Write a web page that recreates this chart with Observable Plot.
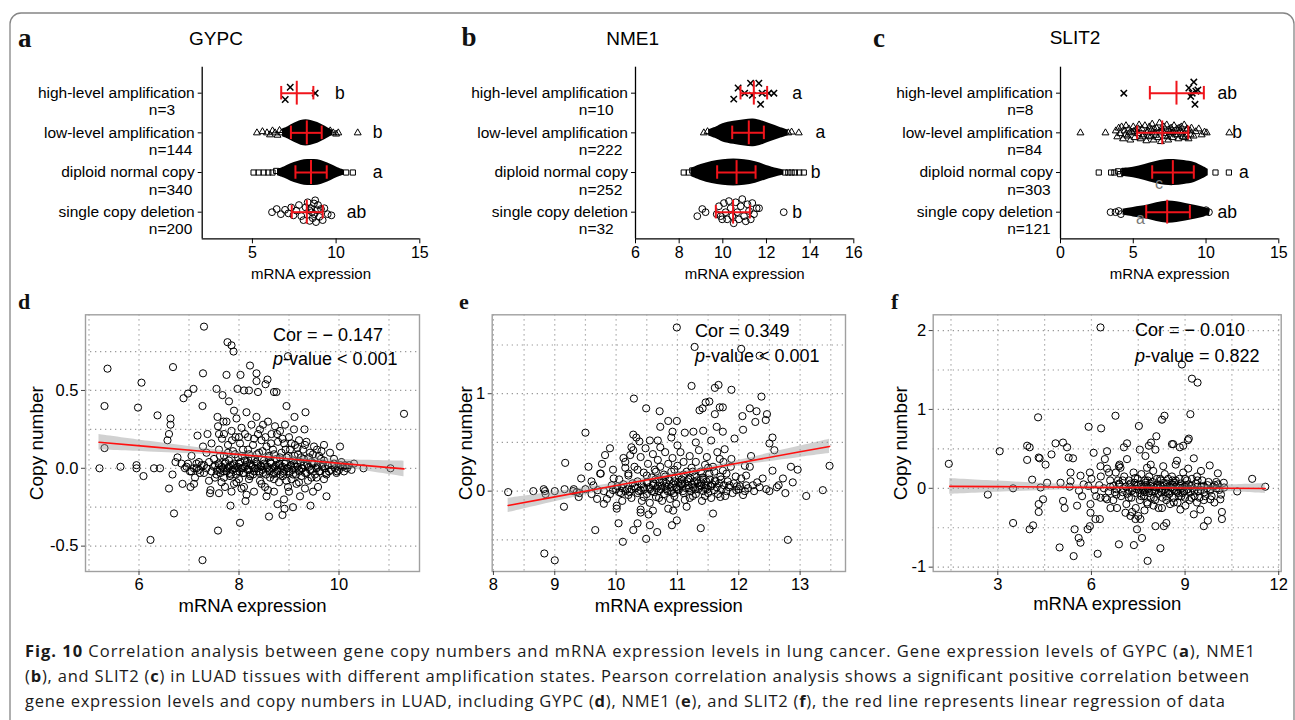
<!DOCTYPE html>
<html><head><meta charset="utf-8">
<script src="https://cdn.jsdelivr.net/npm/d3@7"></script>
<script src="https://cdn.jsdelivr.net/npm/@observablehq/plot@0.6"></script>
<style>
body{margin:0;background:#fff;}
#fig{position:relative;width:1295px;height:720px;overflow:hidden;background:#fff;}
.panel{position:absolute;}
.panel svg{display:block;background:transparent !important;max-width:none !important;}
#overlay{position:absolute;left:0;top:0;pointer-events:none;}
</style></head><body>
<div id="fig"></div>
<script>
// ---------------- DATA ----------------
const categories = ["high-level amplification","low-level amplification","diploid normal copy","single copy deletion"];
const catPos = [4,3,2,1];

// GYPC (a)
const gypcN = [3,144,340,200];
const gypcMean = [7.65,8.25,8.5,8.25];
const gypcSdLo = [6.72,7.3,7.57,7.35];
const gypcSdHi = [8.64,9.14,9.44,9.2];
const gypcLetters = ["b","b","a","ab"];
const gypcLetterX = [10.23,12.48,12.48,11.22];
const gypcHigh = [[7.26,0.15],[6.96,-0.16],[8.75,0]];
const gypcLow = [[5.27,0],[5.6,0.03],[5.87,0],[6.05,-0.05],[6.2,0.05],[6.35,0],[6.5,-0.06],[6.62,0.06],[6.75,0],[9.65,0.05],[9.83,0],[10.0,-0.03],[10.13,0],[11.29,0]];
const gypcDiploid = [[5.07,0],[5.37,0],[5.67,0],[5.95,0],[6.2,0],[6.42,0.04],[10.6,0],[11.0,0]];
const gypcSingle = [[6.17,0],[6.45,0.08],[6.7,-0.05],[6.95,0.06],[7.15,-0.03],[7.32,0.12],[7.45,-0.08],[7.62,0.04],[7.78,0.18],[7.92,-0.1],[8.05,-0.2],[8.18,0.12],[8.3,0.25],[8.42,-0.22],[8.5,0.1],[8.6,-0.15],[8.68,0.22],[8.75,0.3],[8.8,-0.25],[8.86,0.05],[8.92,0.18],[9.0,-0.12],[9.1,0.08],[9.3,0.1],[9.5,-0.05],[9.72,-0.08],[8.55,0],[8.4,0.05],[8.7,-0.05],[9.2,-0.2]];
const gypcLowBlob = [[6.8,0.1],[7.1,0.15],[7.5,0.24],[7.9,0.31],[8.2,0.33],[8.5,0.31],[8.9,0.26],[9.2,0.2],[9.5,0.13],[9.8,0.06]];
const gypcDiploidBlob = [[6.5,0.08],[6.9,0.14],[7.3,0.22],[7.7,0.28],[8.1,0.32],[8.5,0.33],[8.9,0.32],[9.3,0.27],[9.7,0.2],[10.1,0.12],[10.5,0.06]];

// NME1 (b)
const nme1N = [10,222,252,32];
const nme1Mean = [11.42,11.19,10.63,10.47];
const nme1SdLo = [10.81,10.43,9.74,9.68];
const nme1SdHi = [12.03,11.88,11.5,11.24];
const nme1Letters = ["a","a","b","b"];
const nme1LetterX = [13.4,14.47,14.25,13.4];
const nme1High = [[10.5,-0.15],[10.7,0.13],[11.0,0],[11.27,0.25],[11.35,-0.05],[11.65,0.25],[11.73,-0.28],[11.8,0],[12.1,0],[12.34,0]];
const nme1Low = [[9.13,0],[9.3,0.03],[13.0,0],[13.15,0.02],[13.48,0]];
const nme1Diploid = [[8.21,0],[8.44,0],[8.6,0.05],[12.85,0],[13.0,0],[13.15,0],[13.3,0],[13.5,0],[13.71,0]];
const nme1Single = [[8.83,-0.1],[9.06,0.08],[9.21,0],[9.72,-0.05],[9.82,0.15],[9.9,-0.1],[9.97,-0.18],[10.05,0.23],[10.13,0],[10.2,-0.18],[10.28,0.28],[10.36,0.1],[10.43,-0.1],[10.5,-0.28],[10.59,0.25],[10.66,0],[10.74,-0.18],[10.82,0.15],[10.89,0.33],[10.97,-0.1],[11.05,-0.23],[11.13,0.2],[11.2,0.03],[11.28,-0.18],[11.35,0.23],[11.43,-0.05],[11.55,0.1],[11.66,0.1],[12.79,0]];
const nme1LowBlob = [[9.35,0.08],[9.7,0.15],[10.0,0.23],[10.5,0.29],[11.0,0.33],[11.4,0.35],[11.8,0.3],[12.2,0.22],[12.6,0.14],[13.0,0.07]];
const nme1DiploidBlob = [[8.55,0.1],[9.0,0.2],[9.5,0.28],[10.0,0.32],[10.5,0.34],[11.0,0.32],[11.5,0.27],[12.0,0.18],[12.5,0.1],[12.8,0.06]];

// SLIT2 (c)
const slit2N = [8,84,303,121];
const slit2Mean = [7.97,6.99,7.72,7.33];
const slit2SdLo = [6.14,5.27,6.3,5.89];
const slit2SdHi = [9.85,8.78,9.16,8.89];
const slit2Letters = ["ab","b","a","ab"];
const slit2LetterX = [11.45,12.14,12.6,11.45];
const slit2High = [[4.35,0],[8.82,0.13],[8.95,-0.08],[9.05,0],[9.16,0.28],[9.24,-0.28],[9.3,0.05],[9.44,0.08]];
const slit2Low = [[1.37,0],[3.09,0],[3.8,0.05],[3.9,-0.1],[4.0,0.12],[4.1,-0.02],[4.2,0.15],[4.3,-0.15],[4.4,0.05],[4.5,0.18],[4.6,-0.08],[4.7,0.1],[4.8,-0.18],[4.9,0.02],[5.0,0.15],[5.1,-0.12],[5.2,0.08],[5.3,-0.02],[5.4,0.2],[5.5,-0.15],[5.6,0.1],[5.7,-0.05],[5.8,0.18],[5.9,-0.2],[6.0,0.05],[6.1,0.15],[6.2,-0.1],[6.3,0.22],[6.4,-0.18],[6.5,0.0],[6.6,0.12],[6.7,-0.12],[6.8,0.25],[6.9,-0.22],[7.0,0.05],[7.1,0.15],[7.2,-0.08],[7.3,0.2],[7.4,-0.18],[7.5,0.02],[7.6,0.12],[7.7,-0.12],[7.8,0.18],[7.9,-0.05],[8.0,0.1],[8.1,-0.15],[8.2,0.05],[8.3,0.15],[8.4,-0.1],[8.5,0.2],[8.6,-0.05],[8.7,0.1],[8.8,-0.15],[8.9,0.05],[9.0,0.12],[9.15,-0.08],[9.3,0.03],[9.5,0.1],[9.7,-0.05],[9.9,0.02],[10.05,0],[11.6,0],
[4.45,-0.05],[4.75,0.0],[5.05,0.04],[5.35,0.1],[5.65,-0.1],[5.95,0.0],[6.25,0.08],[6.55,-0.06],[6.85,0.02],[7.15,-0.02],[7.45,0.08],[7.75,0.02],[8.05,-0.05],[8.35,0.0],[8.65,0.05],[8.95,-0.05],[6.05,-0.08],[6.45,0.1],[6.95,0.12],[7.35,-0.1],[7.65,0.0],[8.15,0.12],[8.55,-0.12]];
const slit2Diploid = [[2.63,0],[3.48,0],[3.7,0],[3.95,0.03],[4.1,-0.04],[10.65,0],[11.57,0]];
const slit2Single = [[3.44,0],[3.78,0],[4.0,0.03],[4.15,-0.05],[10.0,0.05],[10.2,0]];
const slit2DiploidBlob = [[4.2,0.1],[5.0,0.13],[5.8,0.2],[6.5,0.27],[7.2,0.32],[7.8,0.33],[8.5,0.3],[9.2,0.25],[9.8,0.15],[10.15,0.08]];
const slit2SingleBlob = [[4.3,0.08],[5.0,0.12],[6.0,0.18],[6.8,0.25],[7.4,0.28],[8.0,0.26],[8.6,0.22],[9.3,0.17],[9.9,0.12],[10.25,0.08]];
const slit2Stray = [{x:6.76,y:1.72,t:"c"},{x:5.5,y:0.83,t:"a"}];

// GYPC scatter (d): [mRNA expression, copy number]
const gypcScatter = [[5.21,0.0],[5.31,0.40],[5.37,0.64],[5.31,0.13],[5.63,0.01],[5.95,0.02],[5.95,0.0],[5.98,0.39],[6.05,0.55],[6.09,-0.05],[6.23,-0.46],[6.3,0.0],[6.42,0.0],[6.37,0.34],[6.57,0.18],[6.6,0.22],[6.63,0.32],[6.63,0.28],[6.68,0.65],[6.6,-0.13],[6.7,-0.29],[6.67,-0.04],[6.73,0.04],[6.77,0.07],[6.87,-0.10],[6.89,0.45],[6.98,0.48],[7.09,0.51],[6.92,0.0],[7.03,-0.12],[7.1,-0.10],[7.17,0.21],[7.28,0.61],[7.3,0.91],[7.27,0.40],[7.27,-0.59],[7.37,0.22],[7.43,-0.14],[7.42,-0.16],[7.55,0.51],[7.57,0.33],[7.58,-0.40],[7.6,0.22],[7.67,0.47],[7.69,0.30],[7.77,0.81],[7.85,0.79],[7.89,0.75],[7.75,0.60],[7.8,0.43],[7.83,-0.24],[7.9,0.37],[7.97,0.51],[8.03,0.60],[8.02,-0.35],[8.13,-0.21],[8.1,0.50],[8.2,0.50],[8.22,0.66],[8.35,0.61],[8.35,0.56],[8.38,0.49],[8.53,0.54],[8.57,0.57],[8.7,0.49],[8.75,0.49],[8.6,-0.31],[8.77,-0.23],[8.87,-0.30],[8.91,-0.26],[9.08,-0.25],[8.95,0.40],[8.98,0.72],[9.11,0.33],[9.33,0.36],[9.31,0.25],[9.43,-0.24],[9.75,-0.18],[10.02,0.14],[11.3,0.35],[11.03,0.0],[10.49,0.0],[10.3,0.03],
[6.95,0.01],[7.02,-0.02],[7.1,0.0],[7.15,0.03],[7.2,-0.01],[7.25,0.02],[7.3,-0.03],[7.35,0.0],[7.4,0.04],[7.45,-0.02],[7.5,0.01],[7.55,-0.04],[7.6,0.02],[7.62,-0.01],[7.68,0.0],[7.72,0.03],[7.75,-0.02],[7.8,0.01],[7.84,-0.04],[7.88,0.02],[7.92,0.0],[7.96,-0.02],[8.0,0.03],[8.04,0.0],[8.08,-0.03],[8.12,0.01],[8.16,0.04],[8.2,-0.01],[8.24,0.02],[8.28,-0.04],[8.32,0.0],[8.36,0.03],[8.4,-0.02],[8.44,0.01],[8.48,-0.03],[8.52,0.02],[8.56,0.0],[8.6,-0.01],[8.64,0.03],[8.68,-0.04],[8.72,0.01],[8.76,-0.02],[8.8,0.02],[8.84,0.0],[8.88,-0.03],[8.92,0.03],[8.96,0.0],[9.0,-0.02],[9.04,0.02],[9.08,-0.04],[9.12,0.01],[9.16,0.03],[9.2,-0.01],[9.25,0.0],[9.3,0.02],[9.35,-0.03],[9.4,0.01],[9.45,-0.01],[9.5,0.03],[9.55,0.0],[9.6,-0.02],[9.66,0.01],[9.72,0.0],[9.8,-0.02],[9.86,0.02],[9.92,0.0],[10.0,-0.01],[10.08,0.01],[10.16,0.0],[10.25,-0.01],
[7.52,0.02],[7.56,-0.01],[7.59,0.03],[7.63,-0.03],[7.66,0.01],[7.7,-0.02],[7.73,0.04],[7.77,0.0],[7.81,-0.03],[7.83,0.02],[7.87,-0.01],[7.9,0.03],[7.94,-0.04],[7.97,0.01],[8.01,-0.02],[8.03,0.04],[8.07,0.0],[8.1,-0.03],[8.14,0.02],[8.17,-0.01],[8.21,0.03],[8.23,-0.04],[8.27,0.01],[8.3,-0.02],[8.34,0.04],[8.37,0.0],[8.41,-0.03],[8.43,0.02],[8.47,-0.01],[8.5,0.03],[8.54,-0.04],[8.57,0.01],[8.61,-0.02],[8.63,0.04],[8.67,0.0],[8.7,-0.03],[8.74,0.02],[8.77,-0.01],[8.81,0.03],[8.83,-0.04],[8.87,0.01],[8.9,-0.02],[8.94,0.04],[8.97,0.0],[9.01,-0.03],[9.03,0.02],[9.07,-0.01],[9.1,0.03],[9.14,-0.04],[9.17,0.01],[9.21,-0.02],[9.23,0.04],[9.27,0.0],[9.32,-0.03],[9.37,0.02],[9.42,-0.01],[9.47,0.03],[9.52,-0.04],[9.57,0.01],[9.62,-0.02],[9.68,0.03],[9.74,-0.03],[9.78,0.02],[9.84,-0.01],[9.9,0.03],[9.96,-0.02],[10.03,0.02],[10.1,-0.02],[10.2,0.02],[7.3,0.02],[7.22,-0.03],[7.15,0.0],[7.05,-0.02],[6.98,0.03],
[7.35,0.1],[7.4,-0.08],[7.45,0.16],[7.5,0.06],[7.52,-0.06],[7.58,0.27],[7.6,0.12],[7.65,-0.09],[7.66,0.19],[7.7,0.08],[7.72,-0.12],[7.75,0.3],[7.78,0.15],[7.8,0.05],[7.82,-0.05],[7.85,0.24],[7.88,0.11],[7.9,-0.1],[7.93,0.2],[7.95,0.32],[7.98,0.07],[8.0,-0.07],[8.02,0.16],[8.05,0.26],[8.08,0.12],[8.1,-0.12],[8.12,0.05],[8.15,0.36],[8.18,0.2],[8.2,0.09],[8.22,-0.05],[8.25,0.28],[8.28,0.15],[8.3,-0.15],[8.32,0.06],[8.35,0.33],[8.38,0.22],[8.4,0.1],[8.42,-0.08],[8.45,0.18],[8.48,0.28],[8.5,0.05],[8.52,-0.12],[8.55,0.14],[8.58,0.3],[8.6,0.08],[8.62,-0.06],[8.65,0.22],[8.68,0.12],[8.7,-0.15],[8.72,0.27],[8.75,0.06],[8.78,0.17],[8.8,-0.09],[8.82,0.24],[8.85,0.1],[8.88,-0.05],[8.9,0.16],[8.92,0.28],[8.95,0.07],[8.98,-0.12],[9.0,0.2],[9.02,0.12],[9.05,-0.07],[9.08,0.05],[9.1,0.25],[9.12,0.15],[9.15,-0.1],[9.18,0.09],[9.2,0.18],[9.25,-0.05],[9.28,0.12],[9.3,0.06],[9.35,0.17],[9.38,-0.08],[9.42,0.1],[9.45,0.04],[9.5,0.14],[9.55,-0.06],[9.6,0.08],[9.65,0.11],[9.7,0.05],[9.75,-0.04],[9.82,0.1],[9.9,0.06],[9.95,-0.03],[10.05,0.04],[10.12,0.02],[9.58,-0.12],[9.48,-0.15],[9.22,-0.18],[8.9,-0.2],[8.55,-0.18],[8.15,-0.17],[7.85,-0.15],[7.6,-0.16],[6.85,0.03],[7.05,0.08],[7.12,-0.06],[7.2,0.04],[7.28,0.14],
[7.62,0.08],[7.7,0.22],[7.78,0.1],[7.86,0.18],[7.92,0.09],[8.0,0.2],[8.06,0.08],[8.12,0.22],[8.18,0.12],[8.24,0.06],[8.3,0.19],[8.36,0.09],[8.42,0.25],[8.47,0.11],[8.53,0.2],[8.59,0.07],[8.64,0.16],[8.7,0.09],[8.76,0.22],[8.82,0.07],[8.87,0.19],[8.93,0.12],[8.99,0.08],[9.05,0.16],[9.11,0.08],[9.17,0.13],[9.24,0.07],[9.32,0.15],[9.4,0.07],[9.48,0.09],[9.56,0.12],[9.64,0.06],[9.7,0.15],[7.7,-0.06],[7.95,-0.09],[8.2,-0.07],[8.45,-0.1],[8.7,-0.07],[8.95,-0.08],[9.2,-0.09],[9.45,-0.06],[9.7,-0.07],[8.05,-0.13],[8.58,-0.14],[9.0,-0.15],[9.32,-0.13]];

// NME1 scatter (e)
const nme1Scatter = [[8.24,-0.01],[8.65,0.0],[8.82,0.02],[8.84,0.0],[8.85,-0.03],[8.83,-0.64],[9.0,-0.71],[9.0,0.0],[9.15,-0.16],[9.16,0.02],[9.17,0.29],[9.31,0.02],[9.36,-0.01],[9.39,-0.06],[9.43,0.13],[9.5,0.60],[9.55,0.25],[9.63,0.06],[9.66,-0.40],[9.69,-0.08],[9.74,0.18],[9.77,0.28],[9.8,-0.13],[9.82,0.37],[9.9,0.44],[9.93,0.06],[9.96,0.13],[10.01,-0.15],[10.04,-0.33],[10.11,-0.52],[10.01,-0.18],[10.12,0.34],[10.15,0.24],[10.23,0.37],[10.28,0.42],[10.28,-0.40],[10.29,0.95],[10.33,0.55],[10.38,0.51],[10.35,-0.33],[10.4,-0.19],[10.49,0.85],[10.49,-0.49],[10.53,-0.24],[10.55,-0.35],[10.67,-0.42],[10.71,0.82],[10.72,0.66],[10.68,0.52],[10.85,0.72],[10.92,0.61],[10.99,0.72],[10.99,1.68],[10.91,-0.35],[10.99,-0.30],[10.93,-0.20],[11.23,1.08],[11.28,1.48],[11.38,-0.38],[11.26,0.61],[11.36,0.83],[11.41,0.85],[11.46,0.91],[11.52,0.92],[11.58,-0.23],[11.61,1.06],[11.67,1.09],[11.61,0.79],[11.69,0.86],[11.74,0.86],[11.64,0.66],[11.74,0.61],[11.88,1.04],[11.93,0.54],[12.04,1.46],[12.34,1.39],[12.07,0.63],[12.06,0.77],[12.18,0.85],[12.29,0.82],[12.37,0.97],[12.27,0.71],[12.44,0.73],[12.46,0.79],[12.55,0.55],[12.5,0.49],[12.58,0.42],[12.55,0.21],[12.72,0.13],[12.65,0.06],[12.85,0.25],[12.96,0.22],[12.88,0.09],[12.76,-0.02],[12.8,-0.50],[13.1,-0.05],[13.37,0.01],[13.48,0.26],[12.39,0.13],[12.45,0.02],[12.34,0.04],[12.18,0.25],[12.2,0.36],[12.1,0.26],[12.12,0.16],[12.04,0.13],[11.97,0.05],[11.88,0.33],[11.85,0.06],[11.8,0.18],[11.74,0.21],[11.69,0.33],[11.77,0.43],[11.96,0.01],[12.07,-0.04],[12.12,0.06],[12.23,0.06],
[9.3,0.0],[9.4,-0.02],[9.5,0.02],[9.6,-0.03],[9.7,0.01],[9.8,0.0],[9.9,-0.03],[10.0,0.02],[10.05,-0.01],[10.1,0.03],[10.15,0.0],[10.2,-0.04],[10.25,0.02],[10.3,0.05],[10.35,-0.02],[10.4,0.01],[10.45,0.04],[10.5,-0.03],[10.55,0.02],[10.6,0.06],[10.62,-0.01],[10.66,0.03],[10.7,0.0],[10.74,0.05],[10.78,-0.03],[10.82,0.02],[10.86,0.06],[10.9,0.0],[10.94,-0.02],[10.98,0.04],[11.02,0.01],[11.06,0.07],[11.1,-0.02],[11.14,0.03],[11.18,0.06],[11.22,0.0],[11.26,0.04],[11.3,-0.03],[11.34,0.02],[11.38,0.06],[11.42,0.0],[11.46,0.03],[11.5,-0.02],[11.55,0.05],[11.6,0.01],[11.66,-0.03],[11.72,0.02],[11.8,0.0],[11.9,-0.02],[12.0,0.02],[12.1,0.0],
[9.95,0.01],[10.02,0.05],[10.08,-0.02],[10.12,0.07],[10.18,0.02],[10.22,-0.01],[10.27,0.08],[10.32,0.03],[10.37,0.0],[10.42,0.07],[10.46,0.02],[10.51,0.09],[10.54,0.04],[10.58,0.0],[10.61,0.08],[10.64,0.12],[10.68,0.05],[10.71,0.09],[10.73,0.02],[10.77,0.1],[10.8,0.05],[10.84,0.0],[10.87,0.11],[10.89,0.04],[10.93,0.08],[10.96,0.13],[10.99,0.02],[11.01,0.09],[11.04,0.05],[11.07,0.12],[11.09,0.0],[11.12,0.08],[11.16,0.1],[11.19,0.03],[11.21,0.13],[11.24,0.07],[11.27,0.1],[11.29,0.02],[11.32,0.11],[11.36,0.05],[11.39,0.09],[11.41,0.14],[11.44,0.06],[11.47,0.1],[11.49,0.02],[11.53,0.12],[11.57,0.07],[11.61,0.11],[11.64,0.04],[11.68,0.08],[11.71,0.12],[11.76,0.06],[11.84,0.04],[11.92,0.08],[12.02,0.05],[12.15,0.03],[12.25,0.0],[12.3,0.09],[12.5,0.0],[12.62,0.04],[10.45,-0.06],[10.7,-0.07],[10.95,-0.05],[11.2,-0.07],[11.45,-0.05],[11.7,-0.06],[10.2,0.18],[10.5,0.16],[10.8,0.15],[11.1,0.17],[11.4,0.18],[11.6,0.2],[10.35,0.22],[10.65,0.2],[10.95,0.22],[11.25,0.2],[11.5,0.24],
[9.6,0.1],[9.75,0.18],[9.85,-0.08],[9.95,0.22],[10.05,0.12],[10.1,-0.1],[10.15,0.3],[10.2,0.16],[10.25,-0.07],[10.3,0.25],[10.35,0.1],[10.4,0.35],[10.42,-0.1],[10.45,0.19],[10.5,0.09],[10.52,0.28],[10.55,-0.12],[10.58,0.14],[10.6,0.38],[10.63,0.22],[10.65,-0.06],[10.68,0.32],[10.7,0.12],[10.72,0.25],[10.75,-0.1],[10.78,0.17],[10.8,0.4],[10.82,0.08],[10.85,0.28],[10.88,-0.08],[10.9,0.2],[10.92,0.34],[10.95,0.1],[10.98,-0.13],[11.0,0.26],[11.02,0.16],[11.05,0.4],[11.08,0.08],[11.1,0.3],[11.12,-0.09],[11.15,0.2],[11.18,0.12],[11.2,0.36],[11.23,0.24],[11.25,-0.05],[11.28,0.15],[11.3,0.3],[11.33,0.08],[11.35,0.42],[11.38,0.2],[11.4,-0.1],[11.42,0.12],[11.45,0.27],[11.48,0.35],[11.5,0.06],[11.52,0.18],[11.55,-0.07],[11.58,0.25],[11.62,0.1],[11.65,0.4],[11.7,0.15],[11.75,0.3],[11.78,-0.05],[11.82,0.1],[11.87,0.25],[11.95,0.15],[10.25,0.45],[10.48,0.44],[10.72,0.45],[11.0,0.47],[11.3,0.5],[11.55,0.52],[10.85,-0.18],[10.6,-0.2],[11.15,-0.16],[10.4,-0.22],[10.28,0.58],[10.55,0.52],[10.9,0.55],[11.12,0.6],[11.42,0.62]];

// SLIT2 scatter (f)
const slit2Scatter = [[1.43,0.31],[2.68,-0.08],[3.06,0.47],[3.49,0.0],[3.49,-0.44],[3.94,0.54],[4.02,0.52],[3.94,0.36],[4.02,-0.52],[4.13,-0.47],[4.1,0.11],[4.29,0.90],[4.31,0.39],[4.34,0.38],[4.31,-0.20],[4.31,-0.30],[4.37,0.01],[4.45,-0.14],[4.53,0.30],[4.58,0.07],[4.72,0.43],[4.85,0.57],[4.98,-0.75],[5.01,0.07],[5.09,0.58],[5.09,-0.16],[5.14,-0.25],[5.22,0.52],[5.27,0.39],[5.41,0.38],[5.33,0.20],[5.33,0.09],[5.43,-0.86],[5.46,-0.52],[5.54,-0.22],[5.59,-0.63],[5.65,-0.69],[5.65,0.16],[5.7,-0.10],[5.75,0.05],[5.91,0.78],[5.95,0.20],[5.97,-0.20],[5.97,-0.31],[5.88,-0.52],[5.95,-0.48],[6.07,0.45],[6.13,-0.39],[6.2,-0.83],[6.27,-0.39],[6.29,0.28],[6.29,2.04],[6.31,0.76],[6.43,0.37],[6.5,0.47],[6.56,0.20],[6.77,0.92],[6.88,-0.71],[6.88,0.28],[6.93,0.26],[7.04,0.52],[7.14,0.57],[7.14,0.37],[7.36,-0.72],[7.41,-0.39],[7.52,0.79],[7.46,-0.52],[7.62,-0.63],[7.55,0.49],[7.73,0.41],[7.8,-0.92],[7.78,0.26],[7.84,0.54],[7.91,0.58],[8.05,0.49],[8.08,0.66],[8.05,-0.48],[8.21,-0.76],[8.26,0.87],[8.34,0.92],[8.32,-0.48],[8.4,-0.44],[8.58,0.56],[8.62,0.56],[8.74,0.35],[8.83,0.52],[8.9,1.57],[8.94,0.54],[9.09,0.61],[9.12,0.63],[9.17,0.94],[9.22,1.39],[9.4,1.34],[9.28,0.38],[9.28,-0.33],[9.51,0.22],[9.6,-0.48],[9.73,-0.41],[9.79,0.29],[10.05,0.19],[10.13,-0.14],[10.18,-0.30],[10.18,-0.39],[10.24,0.07],[10.67,-0.04],[11.15,0.12],[11.57,0.02],[9.94,-0.18],[9.81,-0.14],[9.49,-0.27],[9.38,-0.18],[9.01,-0.22],[8.85,-0.27],[8.64,-0.18],[8.26,-0.25],[7.99,-0.22],[7.78,-0.18],[7.57,-0.39],[7.25,-0.35],[7.09,-0.31],[6.82,-0.25],[6.61,-0.25],[6.5,-0.14],[6.29,-0.12],
[5.3,0.02],[5.6,-0.03],[5.9,0.03],[6.1,-0.02],[6.25,0.04],[6.4,0.0],[6.55,-0.04],[6.7,0.03],[6.8,-0.01],[6.9,0.05],[7.0,-0.05],[7.1,0.02],[7.18,-0.02],[7.25,0.06],[7.32,0.0],[7.4,-0.06],[7.46,0.03],[7.52,-0.02],[7.58,0.05],[7.64,0.0],[7.7,-0.05],[7.76,0.04],[7.82,-0.01],[7.88,0.06],[7.94,-0.04],[8.0,0.02],[8.06,-0.02],[8.12,0.05],[8.18,0.0],[8.24,-0.05],[8.3,0.03],[8.36,-0.01],[8.42,0.06],[8.48,-0.04],[8.54,0.01],[8.6,0.05],[8.66,-0.03],[8.72,0.02],[8.78,-0.06],[8.84,0.03],[8.9,0.0],[8.96,-0.04],[9.02,0.04],[9.1,-0.01],[9.2,0.03],[9.3,-0.03],[9.4,0.02],[9.5,-0.02],[9.6,0.03],[9.7,0.0],[9.8,-0.03],[9.9,0.02],[10.0,0.0],[10.1,-0.02],[10.25,0.01],
[6.6,0.02],[6.75,-0.05],[6.88,0.06],[7.02,0.0],[7.15,-0.07],[7.22,0.04],[7.3,-0.03],[7.38,0.07],[7.44,-0.01],[7.5,0.05],[7.56,-0.06],[7.62,0.02],[7.67,-0.03],[7.73,0.07],[7.79,0.0],[7.85,-0.06],[7.9,0.03],[7.96,0.08],[8.02,-0.04],[8.08,0.01],[8.14,-0.07],[8.2,0.04],[8.26,-0.02],[8.32,0.07],[8.38,-0.05],[8.44,0.02],[8.5,-0.07],[8.56,0.05],[8.62,-0.01],[8.68,0.07],[8.74,-0.04],[8.8,0.01],[8.86,0.06],[8.92,-0.06],[8.98,0.02],[9.05,-0.02],[9.12,0.05],[9.18,-0.05],[9.25,0.0],[9.34,0.06],[9.42,-0.04],[9.52,0.02],[9.62,-0.05],[9.72,0.04],[9.82,-0.01],[9.95,0.04],[7.0,0.1],[7.4,0.13],[7.8,0.1],[8.2,0.12],[8.6,0.1],[9.0,0.12],[9.4,0.1],[7.2,-0.12],[7.6,-0.1],[8.0,-0.12],[8.4,-0.15],[8.8,-0.1],[9.2,-0.12],[9.6,-0.15],[6.8,-0.08],[10.05,0.05],
[6.0,0.12],[6.15,-0.1],[6.3,0.15],[6.45,-0.12],[6.6,0.1],[6.7,-0.15],[6.78,0.2],[6.85,0.1],[6.95,-0.1],[7.05,0.15],[7.12,-0.2],[7.2,0.1],[7.28,-0.12],[7.35,0.2],[7.42,-0.25],[7.48,0.12],[7.55,-0.15],[7.6,0.18],[7.68,-0.1],[7.72,0.1],[7.8,-0.2],[7.85,0.15],[7.9,-0.12],[7.98,0.22],[8.04,-0.15],[8.1,0.12],[8.15,-0.25],[8.22,0.1],[8.28,-0.12],[8.35,0.18],[8.4,-0.1],[8.46,0.12],[8.52,-0.2],[8.58,0.15],[8.64,-0.12],[8.7,0.1],[8.76,-0.18],[8.82,0.12],[8.88,-0.1],[8.94,0.2],[9.0,-0.12],[9.06,0.1],[9.14,-0.15],[9.22,0.12],[9.3,-0.1],[9.38,0.15],[9.46,-0.12],[9.55,0.1],[9.65,-0.1],[9.75,0.08],[9.85,-0.1],[10.0,0.08],[10.15,-0.08],[7.3,-0.3],[7.5,-0.35],[7.7,-0.28],[7.9,0.3],[8.3,0.28],[8.7,0.3],[9.1,0.25],[6.5,0.25],[6.9,0.3]];

// Linear fits: x, fitted copy number, half-width of CI band
const gypcFitX = [5.2,6.2,7.2,8.2,9.2,10.2,11.3];
const gypcFitY = [0.167,0.139,0.111,0.083,0.055,0.027,-0.004];
const gypcFitHW = [0.05,0.034,0.021,0.013,0.016,0.028,0.05];
const nme1FitX = [8.24,9,10,11,12,13,13.48];
const nme1FitY = [-0.147,-0.059,0.057,0.172,0.288,0.404,0.459];
const nme1FitHW = [0.074,0.05,0.028,0.018,0.03,0.058,0.074];
const slit2FitX = [1.46,3,4.5,6,7.5,9,10.5,11.57];
const slit2FitY = [0.025,0.021,0.016,0.012,0.008,0.004,0.0,-0.003];
const slit2FitHW = [0.1,0.07,0.045,0.025,0.018,0.025,0.045,0.065];

const corText = ["Cor =  \u2212 0.147","Cor = 0.349","Cor =  \u2212 0.010"];
const pText = ["-value < 0.001","-value < 0.001","-value = 0.822"];

// ---------------- DRAWING ----------------
const SANS = "'Liberation Sans', Arial, Helvetica, sans-serif";
const RED = "#f0141b";
const fig = document.getElementById("fig");
function place(el, left, top){
  const d = document.createElement("div");
  d.className = "panel"; d.style.left = left+"px"; d.style.top = top+"px";
  d.appendChild(el); fig.appendChild(d);
}

function swarm(o){
  const yd = [0.329, 4.655];
  const xd = o.xDomain;
  const stats = categories.map((c,i)=>({pos:catPos[i], n:o.n[i], mean:o.mean[i], lo:o.lo[i], hi:o.hi[i], letter:o.letters[i], lx:o.letterX[i]}));
  const blobRows = [];
  o.blobs.forEach((b,k)=> b.rows.forEach(([x,hw])=>blobRows.push({g:k, x, y1:b.pos-hw, y2:b.pos+hw})));
  const pts = (data,pos)=> data.map(([x,off])=>({x, y:pos+off}));
  const dotOpt = {x:"x", y:"y", stroke:"black", fill:"none"};
  return Plot.plot({
    width:o.width, height:270, marginLeft:o.ml, marginRight:o.mr, marginTop:46.7, marginBottom:51.7,
    x:{domain:xd}, y:{domain:yd},
    style:{fontFamily:SANS, fontSize:"16px", background:"transparent", color:"black", overflow:"visible"},
    marks:[
      Plot.areaY(blobRows, {x:"x", y1:"y1", y2:"y2", z:"g", fill:"black", curve:"catmull-rom"}),
      Plot.dot(pts(o.high,4), {...dotOpt, symbol:"times", r:3, strokeWidth:1.5}),
      Plot.dot(pts(o.low,3), {...dotOpt, symbol:"triangle2", r:3.3, strokeWidth:1}),
      Plot.dot(pts(o.diploid,2), {...dotOpt, symbol:"square2", r:3.3, strokeWidth:1}),
      Plot.dot(pts(o.single,1), {...dotOpt, symbol:"circle", r:3.4, strokeWidth:1}),
      Plot.ruleX([xd[0]], {stroke:"black", strokeWidth:1.3}),
      Plot.ruleY([yd[0]], {stroke:"black", strokeWidth:1.3}),
      Plot.axisX({ticks:o.xTicks, tickSize:5, tickPadding:2.5, fontSize:16, label:null, tickFormat:d=>String(d)}),
      Plot.axisY({ticks:catPos, tickSize:4, tickPadding:3.5, fontSize:15.5, label:null, tickFormat:d=>categories[catPos.indexOf(d)]}),
      Plot.text(stats, {x:()=>xd[0], y:"pos", text:d=>"n="+d.n, dx:o.nDx, dy:17.3, textAnchor:"start", fontSize:15.5, fill:"black"}),
      Plot.ruleY(stats, {x1:"lo", x2:"hi", y:"pos", stroke:RED, strokeWidth:2}),
      Plot.ruleX(stats, {x:"mean", y1:d=>d.pos-0.3, y2:d=>d.pos+0.3, stroke:RED, strokeWidth:2}),
      Plot.ruleX(stats, {x:"lo", y1:d=>d.pos-0.17, y2:d=>d.pos+0.17, stroke:RED, strokeWidth:2}),
      Plot.ruleX(stats, {x:"hi", y1:d=>d.pos-0.17, y2:d=>d.pos+0.17, stroke:RED, strokeWidth:2}),
      Plot.text(stats, {x:"lx", y:"pos", text:"letter", fontSize:17.5, fill:"black"}),
      Plot.text(o.stray||[], {x:"x", y:"y", text:"t", fontSize:16, fill:"#777"}),
      Plot.text(["mRNA expression"], {frameAnchor:"bottom", lineAnchor:"middle", textAnchor:"middle", dy:35, fontSize:15, fill:"black"})
    ]
  });
}

function scatter(o){
  const fit = o.fitX.map((x,i)=>({x, y:o.fitY[i], y1:o.fitY[i]-o.fitHW[i], y2:o.fitY[i]+o.fitHW[i]}));
  const gridOpt = {stroke:"#9a9a9a", strokeOpacity:1, strokeWidth:1.2, strokeDasharray:"1.3,3.7"};
  return Plot.plot({
    width:o.width, height:330, marginLeft:o.ml, marginRight:o.mr, marginTop:29.3, marginBottom:44,
    x:{domain:o.xDomain}, y:{domain:o.yDomain},
    style:{fontFamily:SANS, fontSize:"16px", background:"transparent", color:"black", overflow:"visible"},
    marks:[
      Plot.gridX(o.gridX, gridOpt),
      Plot.gridY(o.gridY, gridOpt),
      Plot.frame({stroke:"#a0a0a0", strokeWidth:1.4}),
      Plot.axisX({ticks:o.xTicks, tickSize:4, tickPadding:2.5, fontSize:16.5, label:null, stroke:"#444", tickFormat:d=>String(d)}),
      Plot.axisY({ticks:o.yTicks, tickSize:4, tickPadding:3, fontSize:16.5, label:null, stroke:"#444", tickFormat:o.yFormat}),
      Plot.dot(o.points, {x:d=>d[0], y:d=>d[1], r:3.6, stroke:"black", fill:"none", strokeWidth:1}),
      Plot.areaY(fit, {x:"x", y1:"y1", y2:"y2", fill:"#9a9a9a", fillOpacity:0.45, curve:"catmull-rom"}),
      Plot.line(fit, {x:"x", y:"y", stroke:"#ff1010", strokeWidth:1.6}),
      Plot.text(["mRNA expression"], {frameAnchor:"bottom", lineAnchor:"middle", textAnchor:"middle", dy:o.xlDy, fontSize:18.5, fill:"black"}),
      Plot.text(["Copy number"], {frameAnchor:"left", lineAnchor:"middle", textAnchor:"middle", dx:o.ylDx, rotate:-90, fontSize:19, fill:"black"})
    ]
  });
}

place(swarm({width:440, ml:201.7, mr:20.7, xDomain:[2,15], xTicks:[5,10,15], n:gypcN, mean:gypcMean, lo:gypcSdLo, hi:gypcSdHi, letters:gypcLetters, letterX:gypcLetterX, nDx:-53.4,
  high:gypcHigh, low:gypcLow, diploid:gypcDiploid, single:gypcSingle,
  blobs:[{pos:3, rows:gypcLowBlob},{pos:2, rows:gypcDiploidBlob}]}), 0, 20);
place(swarm({width:430, ml:195, mr:16.7, xDomain:[6,16], xTicks:[6,8,10,12,14,16], n:nme1N, mean:nme1Mean, lo:nme1SdLo, hi:nme1SdHi, letters:nme1Letters, letterX:nme1LetterX, nDx:-56.7,
  high:nme1High, low:nme1Low, diploid:nme1Diploid, single:nme1Single,
  blobs:[{pos:3, rows:nme1LowBlob},{pos:2, rows:nme1DiploidBlob}]}), 440, 20);
place(swarm({width:435, ml:200, mr:16.7, xDomain:[0,15], xTicks:[0,5,10,15], n:slit2N, mean:slit2Mean, lo:slit2SdLo, hi:slit2SdHi, letters:slit2Letters, letterX:slit2LetterX, nDx:-53.3,
  high:slit2High, low:slit2Low, diploid:slit2Diploid, single:slit2Single, stray:slit2Stray,
  blobs:[{pos:2, rows:slit2DiploidBlob},{pos:1, rows:slit2SingleBlob}]}), 860, 20);

place(scatter({width:430, ml:85, mr:11, xDomain:[4.93,11.61], yDomain:[-0.663,0.986], xTicks:[6,8,10], yTicks:[-0.5,0,0.5], yFormat:d=>d.toFixed(1),
  gridX:[5,6,7,8,9,10,11], gridY:[-0.5,-0.25,0,0.25,0.5,0.75], points:gypcScatter, fitX:gypcFitX, fitY:gypcFitY, fitHW:gypcFitHW, xlDy:34.5, ylDx:-48.3}), 0, 285);
place(scatter({width:440, ml:61.7, mr:25, xDomain:[7.98,13.74], yDomain:[-0.825,1.81], xTicks:[8,9,10,11,12,13], yTicks:[0,1], yFormat:d=>String(d),
  gridX:[8,8.5,9,9.5,10,10.5,11,11.5,12,12.5,13,13.5], gridY:[-0.5,0,0.5,1,1.5], points:nme1Scatter, fitX:nme1FitX, fitY:nme1FitY, fitHW:nme1FitHW, xlDy:34.5, ylDx:-26.7}), 430, 285);
place(scatter({width:435, ml:72.7, mr:14.3, xDomain:[0.93,12.08], yDomain:[-1.055,2.2], xTicks:[3,6,9,12], yTicks:[-1,0,1,2], yFormat:d=>String(d),
  gridX:[1.5,3,4.5,6,7.5,9,10.5,12], gridY:[-1,-0.5,0,0.5,1,1.5,2], points:slit2Scatter, fitX:slit2FitX, fitY:slit2FitY, fitHW:slit2FitHW, xlDy:33, ylDx:-32.7}), 860, 285);

// ---------------- TEXT OVERLAY ----------------
const ann = [{x:273, y1:341, y2:365},{x:695, y1:337, y2:361.5},{x:1135, y1:336, y2:361.5}];
const serif = "'Liberation Serif','Times New Roman',serif";
const cap = "'Open Sans','Noto Sans',sans-serif";
let s = `<svg id="overlay" width="1295" height="720" xmlns="http://www.w3.org/2000/svg">
<rect x="10" y="13" width="1284" height="800" rx="11" fill="none" stroke="#858585" stroke-width="1.3"/>
<g font-family="${serif}" font-weight="bold" fill="#111">
<text x="18" y="47" font-size="27">a</text>
<text x="461.5" y="46" font-size="27">b</text>
<text x="873" y="46.5" font-size="27">c</text>
<text x="18" y="309" font-size="22">d</text>
<text x="459" y="309" font-size="22">e</text>
<text x="891" y="309" font-size="22">f</text>
</g>
<g font-family="${SANS}" font-size="19" fill="black" text-anchor="middle">
<text x="216" y="45">GYPC</text>
<text x="632.7" y="44.5">NME1</text>
<text x="1075" y="43.5">SLIT2</text>
</g>
<g font-family="${SANS}" font-size="18" fill="black" style="white-space:pre">`;
ann.forEach((a,i)=>{
  s += `<text x="${a.x}" y="${a.y1}">${corText[i]}</text>`;
  s += `<text x="${a.x}" y="${a.y2}"><tspan font-style="italic">p</tspan>${pText[i].replace("<","&lt;")}</text>`;
});
s += `</g>
<g font-family="${cap}" font-size="16.5" fill="#1a1a1a" style="white-space:pre">
<text x="25" y="656.7" textLength="1230" lengthAdjust="spacing"><tspan font-weight="bold">Fig. 10</tspan>  Correlation analysis between gene copy numbers and mRNA expression levels in lung cancer. Gene expression levels of GYPC (<tspan font-weight="bold">a</tspan>), NME1</text>
<text x="25" y="681.5" textLength="1224" lengthAdjust="spacing">(<tspan font-weight="bold">b</tspan>), and SLIT2 (<tspan font-weight="bold">c</tspan>) in LUAD tissues with different amplification states. Pearson correlation analysis shows a significant positive correlation between</text>
<text x="25" y="706.5" textLength="1200" lengthAdjust="spacing">gene expression levels and copy numbers in LUAD, including GYPC (<tspan font-weight="bold">d</tspan>), NME1 (<tspan font-weight="bold">e</tspan>), and SLIT2 (<tspan font-weight="bold">f</tspan>), the red line represents linear regression of data</text>
</g></svg>`;
const holder = document.createElement("div");
holder.innerHTML = s;
fig.appendChild(holder.firstElementChild);
</script></body></html>
